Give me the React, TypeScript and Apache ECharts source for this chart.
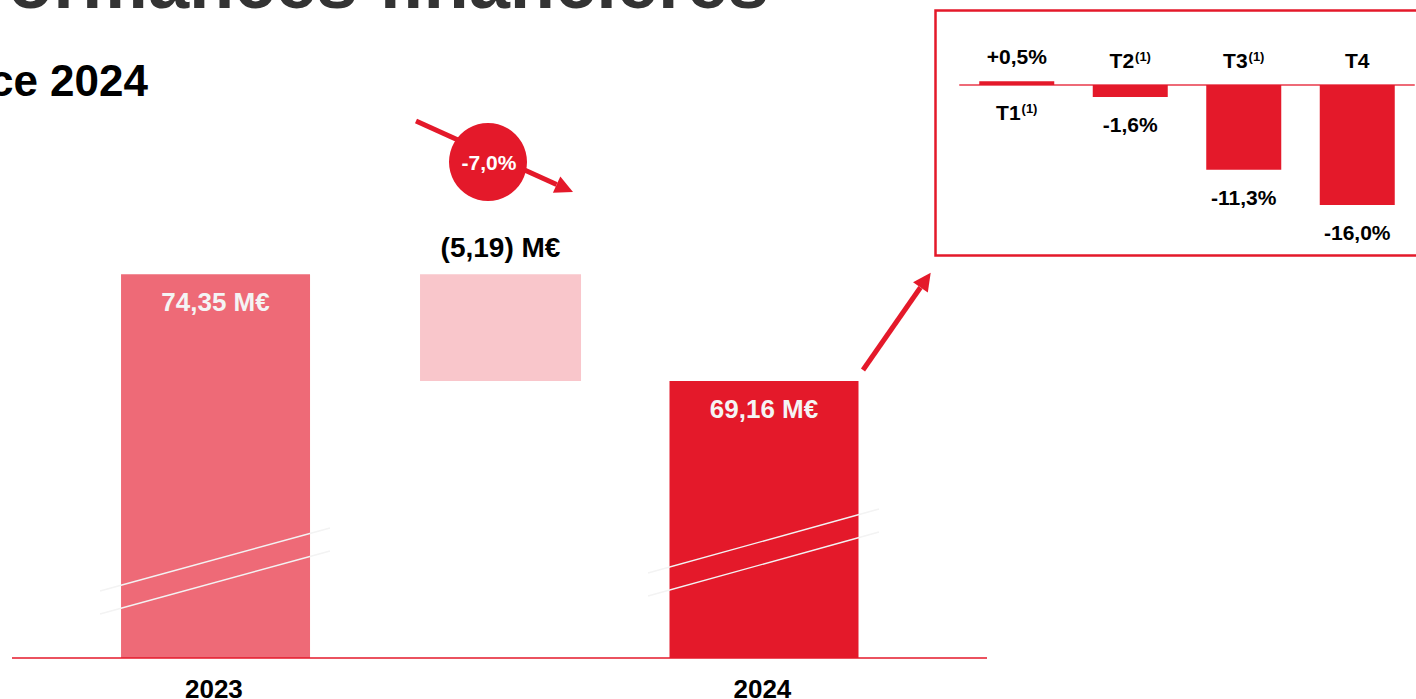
import React, { useEffect, useRef } from 'react';
import * as echarts from 'echarts';

const FONT = '"Liberation Sans", Arial, Helvetica, sans-serif';
const RED = '#E4192A';
const PINK = '#EE6A77';
const LIGHT_PINK = '#F9C6CB';

// Main waterfall (M€)
const yearCategories = ['2023', '', '2024'];
const yearRevenue: (number | null)[] = [74.35, null, 69.16];
const revenueChange: (number | null)[] = [null, -5.19, null];
const revenueChangePct = -7.0;
const yearColors = [PINK, LIGHT_PINK, RED];

// Quarterly growth inset (%)
const quarterCategories = ['T1', 'T2', 'T3', 'T4'];
const quarterNotes = ['(1)', '(1)', '(1)', ''];
const quarterGrowth = [0.5, -1.6, -11.3, -16.0];

const titleFragment = 'ormances financières';
const subtitleFragment = 'ce 2024';

function fr(v: number, d: number): string {
  return Math.abs(v).toFixed(d).replace('.', ',');
}
function signed(v: number, d: number): string {
  return (v > 0 ? '+' : v < 0 ? '-' : '') + fr(v, d);
}

function arrow(x1: number, y1: number, x2: number, y2: number, w: number, head: number, half: number) {
  const dx = x2 - x1, dy = y2 - y1;
  const len = Math.sqrt(dx * dx + dy * dy);
  const ux = dx / len, uy = dy / len;
  const nx = -uy, ny = ux;
  const bx = x2 - head * ux, by = y2 - head * uy;
  return [
    { type: 'polyline', z: 20, shape: { points: [[x1, y1], [bx, by]] }, style: { stroke: RED, lineWidth: w, fill: null } },
    { type: 'polygon', z: 20, shape: { points: [[x2, y2], [bx + half * nx, by + half * ny], [bx - half * nx, by - half * ny]] }, style: { fill: RED } },
  ];
}

function breakLines(x1: number, x2: number, ya1: number, ya2: number, gap: number) {
  return [0, gap].map((g) => ({
    type: 'line', z: 30,
    shape: { x1, y1: ya1 + g, x2, y2: ya2 + g },
    style: { stroke: '#F3F3F3', lineWidth: 1.4 },
  }));
}

export default function App() {
  const ref = useRef<HTMLDivElement>(null);

  useEffect(() => {
    if (!ref.current) return;
    const chart = echarts.init(ref.current, null, { renderer: 'svg' });

    const totalsData = yearRevenue.map((v, i) =>
      v == null ? '-' : { value: v, itemStyle: { color: yearColors[i] } }
    );
    const baseData = revenueChange.map((c, i) => {
      if (c == null) return '-';
      const prev = yearRevenue[i - 1] as number;
      return c < 0 ? prev + c : prev;
    });
    const deltaData = revenueChange.map((c, i) =>
      c == null ? '-' : { value: Math.abs(c), change: c, itemStyle: { color: yearColors[i] } }
    );

    const qBars = quarterGrowth.map((v) => ({
      value: v,
      label: { position: v >= 0 ? 'top' : 'bottom', distance: v >= 0 ? 14 : 17 },
    }));
    const qNames = quarterGrowth.map((v) => ({
      value: v,
      label: { position: v >= 0 ? 'bottom' : 'top', distance: v >= 0 ? 17 : 14 },
    }));

    const pctText = signed(revenueChangePct, 1) + '%';

    const option: any = {
      animation: false,
      backgroundColor: '#ffffff',
      textStyle: { fontFamily: FONT },
      grid: [
        { left: 76.8, right: 516.5, top: 117, bottom: 41, outerBoundsMode: 'none', containLabel: false },
        { left: 960, right: 2, top: 40, bottom: 449, outerBoundsMode: 'none', containLabel: false },
      ],
      xAxis: [
        {
          type: 'category', gridIndex: 0, data: yearCategories,
          axisLine: { show: false }, axisTick: { show: false },
          axisLabel: { color: '#000', fontSize: 26, fontWeight: 'bold', fontFamily: FONT, margin: 18 },
        },
        {
          type: 'category', gridIndex: 1, data: quarterCategories,
          axisLine: { show: true, onZero: true, lineStyle: { color: PINK, width: 2 } },
          axisTick: { show: false }, axisLabel: { show: false },
        },
      ],
      yAxis: [
        { type: 'value', gridIndex: 0, min: 55.7, max: 82, show: false, splitLine: { show: false } },
        { type: 'value', gridIndex: 1, min: -22, max: 6, show: false, splitLine: { show: false } },
      ],
      series: [
        {
          name: 'Chiffre d\u2019affaires', type: 'bar', xAxisIndex: 0, yAxisIndex: 0,
          data: totalsData, barWidth: 189, barGap: '-86.9%', clip: true, silent: true,
          label: {
            show: true, position: 'insideTop', distance: 15,
            color: '#F4F4F4', fontSize: 26, fontWeight: 'bold', fontFamily: FONT,
            formatter: (p: any) => fr(p.value, 2) + ' M\u20ac',
          },
        },
        {
          name: 'base', type: 'bar', xAxisIndex: 0, yAxisIndex: 0, stack: 'delta',
          data: baseData, barWidth: 161, barGap: '-86.9%', clip: true, silent: true,
          itemStyle: { color: 'rgba(0,0,0,0)' },
        },
        {
          name: 'Variation', type: 'bar', xAxisIndex: 0, yAxisIndex: 0, stack: 'delta',
          data: deltaData, barWidth: 161, barGap: '-86.9%', clip: true, silent: true,
          label: {
            show: true, position: 'top', distance: 13,
            color: '#000', fontSize: 28, fontWeight: 'bold', fontFamily: FONT,
            formatter: (p: any) => {
              const c = p.data.change as number;
              return (c < 0 ? '(' + fr(c, 2) + ')' : '+' + fr(c, 2)) + ' M\u20ac';
            },
          },
        },
        {
          name: 'Croissance trimestrielle', type: 'bar', xAxisIndex: 1, yAxisIndex: 1,
          data: qBars, barWidth: 75, barGap: '-100%', silent: true,
          itemStyle: { color: RED },
          label: {
            show: true, color: '#000', fontSize: 21, fontWeight: 'bold', fontFamily: FONT,
            formatter: (p: any) => signed(p.value, 1) + '%',
          },
        },
        {
          name: 'Trimestres', type: 'bar', xAxisIndex: 1, yAxisIndex: 1,
          data: qNames, barWidth: 75, barGap: '-100%', silent: true,
          itemStyle: { color: 'rgba(0,0,0,0)' },
          label: {
            show: true, color: '#000', fontFamily: FONT,
            formatter: (p: any) => {
              const note = quarterNotes[p.dataIndex];
              return '{n|' + quarterCategories[p.dataIndex] + '}' + (note ? '{s|' + note + '}' : '');
            },
            rich: {
              n: { fontSize: 21, fontWeight: 'bold', color: '#000', fontFamily: FONT },
              s: { fontSize: 13, fontWeight: 'bold', color: '#000', fontFamily: FONT, verticalAlign: 'top', padding: [0, 0, 8, 1] },
            },
          },
        },
      ],
      graphic: [
        {
          type: 'text', x: 769, y: -17.5, z: 5,
          style: { text: titleFragment, fill: '#333333', font: 'bold 74px ' + FONT, align: 'right', verticalAlign: 'middle' },
        },
        {
          type: 'text', x: 148, y: 80, z: 5,
          style: { text: subtitleFragment, fill: '#000000', font: 'bold 44px ' + FONT, align: 'right', verticalAlign: 'middle' },
        },
        {
          type: 'rect', z: 5,
          shape: { x: 935.5, y: 10.5, width: 520, height: 245 },
          style: { fill: null, stroke: RED, lineWidth: 2.5 },
        },
        { type: 'line', z: 5, shape: { x1: 12, y1: 658, x2: 987, y2: 658 }, style: { stroke: RED, lineWidth: 1.5 } },
        ...arrow(416, 121, 573, 192, 5, 18, 9),
        { type: 'circle', z: 21, shape: { cx: 488, cy: 162, r: 39 }, style: { fill: RED } },
        {
          type: 'text', x: 489, y: 162, z: 22,
          style: { text: pctText, fill: '#ffffff', font: 'bold 21px ' + FONT, align: 'center', verticalAlign: 'middle' },
        },
        ...arrow(863, 370, 930.7, 272.7, 5, 18, 9),
        ...breakLines(100, 330, 591, 528, 23),
        ...breakLines(648, 879, 573, 509, 23),
      ],
    };

    chart.setOption(option);
    return () => chart.dispose();
  }, []);

  return (
    <div
      ref={ref}
      style={{ position: 'fixed', left: 0, top: 0, width: 1416, height: 699, background: '#fff' }}
    />
  );
}
